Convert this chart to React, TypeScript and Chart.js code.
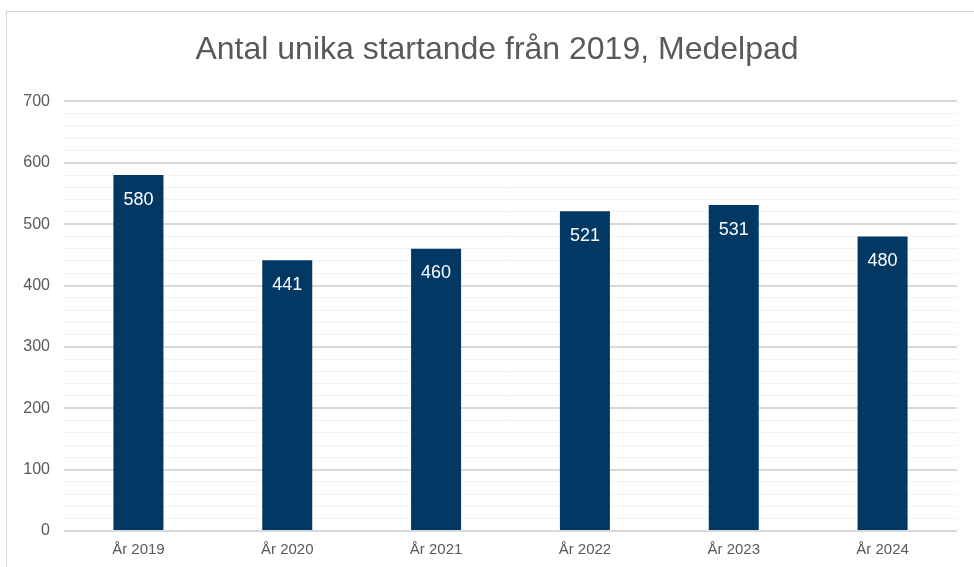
import React, { useEffect, useRef } from "react";
import { Chart, registerables } from "chart.js";

Chart.register(...registerables);

const categories = ["År 2019", "År 2020", "År 2021", "År 2022", "År 2023", "År 2024"];
const values = [580, 441, 460, 521, 531, 480];
const yMax = 700;
const yMinorStep = 20;
const yMajorStep = 100;
const titleText = "Antal unika startande från 2019, Medelpad";

const FONT = "'Liberation Sans', Arial, Helvetica, sans-serif";
const TEXT = "#595959";
const BAR = "#023864";

const dataLabels = {
  id: "dataLabels",
  afterDatasetsDraw(chart: any) {
    const ctx = chart.ctx;
    const meta = chart.getDatasetMeta(0);
    ctx.save();
    ctx.fillStyle = "#ffffff";
    ctx.font = `18px ${FONT}`;
    ctx.textAlign = "center";
    ctx.textBaseline = "middle";
    meta.data.forEach((bar: any, i: number) => {
      ctx.fillText(String(chart.data.datasets[0].data[i]), bar.x, bar.y + 24.5);
    });
    ctx.restore();
  },
};

const titleDraw = {
  id: "titleDraw",
  afterDraw(chart: any) {
    const ctx = chart.ctx;
    ctx.save();
    ctx.fillStyle = TEXT;
    ctx.font = `32px ${FONT}`;
    ctx.textAlign = "center";
    ctx.textBaseline = "middle";
    ctx.fillText(titleText, 497, 50.2);
    ctx.restore();
  },
};

export default function App() {
  const ref = useRef<HTMLCanvasElement | null>(null);
  useEffect(() => {
    if (!ref.current) return;
    const chart = new Chart(ref.current, {
      type: "bar",
      data: {
        labels: categories,
        datasets: [
          {
            data: values,
            backgroundColor: BAR,
            barPercentage: 0.336,
            categoryPercentage: 1,
          },
        ],
      },
      options: {
        animation: false,
        responsive: false,
        maintainAspectRatio: false,
        layout: { padding: { left: 0, right: 17, top: 101.4, bottom: 0 } },
        plugins: {
          legend: { display: false },
          tooltip: { enabled: false },
          title: { display: false },
        },
        scales: {
          x: {
            grid: { display: false, drawTicks: false },
            border: { display: false },
            ticks: {
              color: TEXT,
              font: { family: FONT, size: 15 },
              padding: 10,
              maxRotation: 0,
            },
            afterFit: (s: any) => {
              s.height = 36;
            },
          },
          y: {
            min: 0,
            max: yMax,
            grid: {
              drawTicks: false,
              color: (c: any) => (c.tick && c.tick.value % yMajorStep === 0 ? "#d9d9d9" : "#f2f2f2"),
              lineWidth: (c: any) => (c.tick && c.tick.value % yMajorStep === 0 ? 2 : 1),
            },
            border: { display: false },
            ticks: {
              stepSize: yMinorStep,
              color: TEXT,
              font: { family: FONT, size: 16 },
              padding: 14,
              autoSkip: false,
              callback: (v: any) => (Number(v) % yMajorStep === 0 ? String(v) : ""),
            },
            afterFit: (s: any) => {
              s.width = 64;
            },
          },
        },
      },
      plugins: [dataLabels, titleDraw],
    });
    return () => chart.destroy();
  }, []);

  return (
    <div
      style={{
        position: "absolute",
        left: 0,
        top: 0,
        width: 974,
        height: 567,
        overflow: "hidden",
        background: "#ffffff",
      }}
    >
      <div
        style={{
          position: "absolute",
          left: 6,
          top: 11,
          width: 1000,
          height: 600,
          border: "1px solid #d6d6d6",
        }}
      />
      <canvas
        ref={ref}
        width={974}
        height={567}
        style={{ position: "absolute", left: 0, top: 0, width: 974, height: 567 }}
      />
    </div>
  );
}
